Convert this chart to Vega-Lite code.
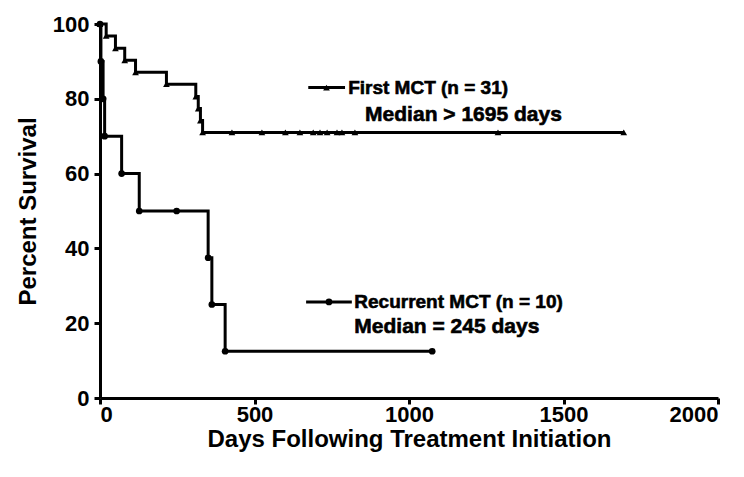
{
  "$schema": "https://vega.github.io/schema/vega-lite/v6.json",
  "width": 618,
  "height": 374,
  "autosize": {"type": "none"},
  "padding": {"left": 100, "top": 24, "right": 26, "bottom": 79},
  "background": "white",
  "config": {
    "view": {"stroke": null},
    "axis": {
      "grid": false,
      "domainColor": "black",
      "domainWidth": 3,
      "tickColor": "black",
      "tickWidth": 3,
      "tickSize": 6,
      "labelColor": "black",
      "labelFont": "Liberation Sans",
      "labelFontWeight": "bold",
      "labelFontSize": 22,
      "titleColor": "black",
      "titleFont": "Liberation Sans",
      "titleFontWeight": "bold",
      "titleFontSize": 24
    }
  },
  "datasets": {
    "km": [
      {"series": "First", "day": 0, "surv": 100},
      {"series": "First", "day": 20, "surv": 96.8},
      {"series": "First", "day": 50, "surv": 93.5},
      {"series": "First", "day": 80, "surv": 90.3},
      {"series": "First", "day": 115, "surv": 87.1},
      {"series": "First", "day": 215, "surv": 83.9},
      {"series": "First", "day": 310, "surv": 80.6},
      {"series": "First", "day": 318, "surv": 77.4},
      {"series": "First", "day": 325, "surv": 74.2},
      {"series": "First", "day": 332, "surv": 71.0},
      {"series": "First", "day": 427, "surv": 71.0},
      {"series": "First", "day": 524, "surv": 71.0},
      {"series": "First", "day": 600, "surv": 71.0},
      {"series": "First", "day": 647, "surv": 71.0},
      {"series": "First", "day": 690, "surv": 71.0},
      {"series": "First", "day": 712, "surv": 71.0},
      {"series": "First", "day": 735, "surv": 71.0},
      {"series": "First", "day": 767, "surv": 71.0},
      {"series": "First", "day": 783, "surv": 71.0},
      {"series": "First", "day": 825, "surv": 71.0},
      {"series": "First", "day": 1288, "surv": 71.0},
      {"series": "First", "day": 1695, "surv": 71.0},
      {"series": "Recurrent", "day": 0, "surv": 100},
      {"series": "Recurrent", "day": 3, "surv": 90},
      {"series": "Recurrent", "day": 10, "surv": 80},
      {"series": "Recurrent", "day": 15, "surv": 70},
      {"series": "Recurrent", "day": 70, "surv": 60},
      {"series": "Recurrent", "day": 127, "surv": 50},
      {"series": "Recurrent", "day": 248, "surv": 50},
      {"series": "Recurrent", "day": 350, "surv": 37.5},
      {"series": "Recurrent", "day": 362, "surv": 25},
      {"series": "Recurrent", "day": 405, "surv": 12.5},
      {"series": "Recurrent", "day": 1075, "surv": 12.5}
    ],
    "legline": [
      {"series": "First", "day": 674, "surv": 83},
      {"series": "First", "day": 793, "surv": 83},
      {"series": "Recurrent", "day": 667, "surv": 25.7},
      {"series": "Recurrent", "day": 815, "surv": 25.7}
    ],
    "legpt": [
      {"series": "First", "day": 733, "surv": 83},
      {"series": "Recurrent", "day": 741, "surv": 25.7}
    ],
    "labels": [
      {"label": "First MCT (n = 31)", "day": 803, "surv": 83, "big": "n"},
      {"label": "Median > 1695 days", "day": 858, "surv": 75.6, "big": "y"},
      {"label": "Recurrent MCT (n = 10)", "day": 823, "surv": 25.7, "big": "n"},
      {"label": "Median = 245 days", "day": 823, "surv": 19, "big": "y"}
    ]
  },
  "encoding": {
    "x": {
      "field": "day", "type": "quantitative",
      "scale": {"domain": [0, 2000], "nice": false},
      "axis": {"values": [0, 500, 1000, 1500, 2000], "format": "d", "title": "Days Following Treatment Initiation", "titlePadding": 2, "labelPadding": 0}
    },
    "y": {
      "field": "surv", "type": "quantitative",
      "scale": {"domain": [0, 100], "nice": false},
      "axis": {"values": [0, 20, 40, 60, 80, 100], "format": "d", "title": "Percent Survival", "titlePadding": 12, "labelPadding": 5}
    }
  },
  "layer": [
    {
      "data": {"name": "km"},
      "mark": {"type": "line", "interpolate": "step-after", "color": "black", "strokeWidth": 3},
      "encoding": {"detail": {"field": "series"}}
    },
    {
      "data": {"name": "km"},
      "mark": {"type": "point", "filled": true, "color": "black", "opacity": 1},
      "encoding": {
        "shape": {"field": "series", "type": "nominal", "scale": {"domain": ["First", "Recurrent"], "range": ["triangle-up", "circle"]}, "legend": null},
        "size": {"value": 45}
      }
    },
    {
      "data": {"name": "legline"},
      "mark": {"type": "line", "color": "black", "strokeWidth": 3},
      "encoding": {"detail": {"field": "series"}}
    },
    {
      "data": {"name": "legpt"},
      "mark": {"type": "point", "filled": true, "color": "black", "opacity": 1},
      "encoding": {
        "shape": {"field": "series", "type": "nominal", "scale": {"domain": ["First", "Recurrent"], "range": ["triangle-up", "circle"]}, "legend": null},
        "size": {"value": 45}
      }
    },
    {
      "data": {"name": "labels"},
      "mark": {"type": "text", "align": "left", "baseline": "middle", "font": "Liberation Sans", "fontWeight": "bold", "color": "black", "stroke": "black", "strokeWidth": 0.6},
      "encoding": {
        "text": {"field": "label"},
        "size": {"field": "big", "type": "nominal", "scale": {"domain": ["n", "y"], "range": [19, 21]}, "legend": null}
      }
    }
  ]
}
